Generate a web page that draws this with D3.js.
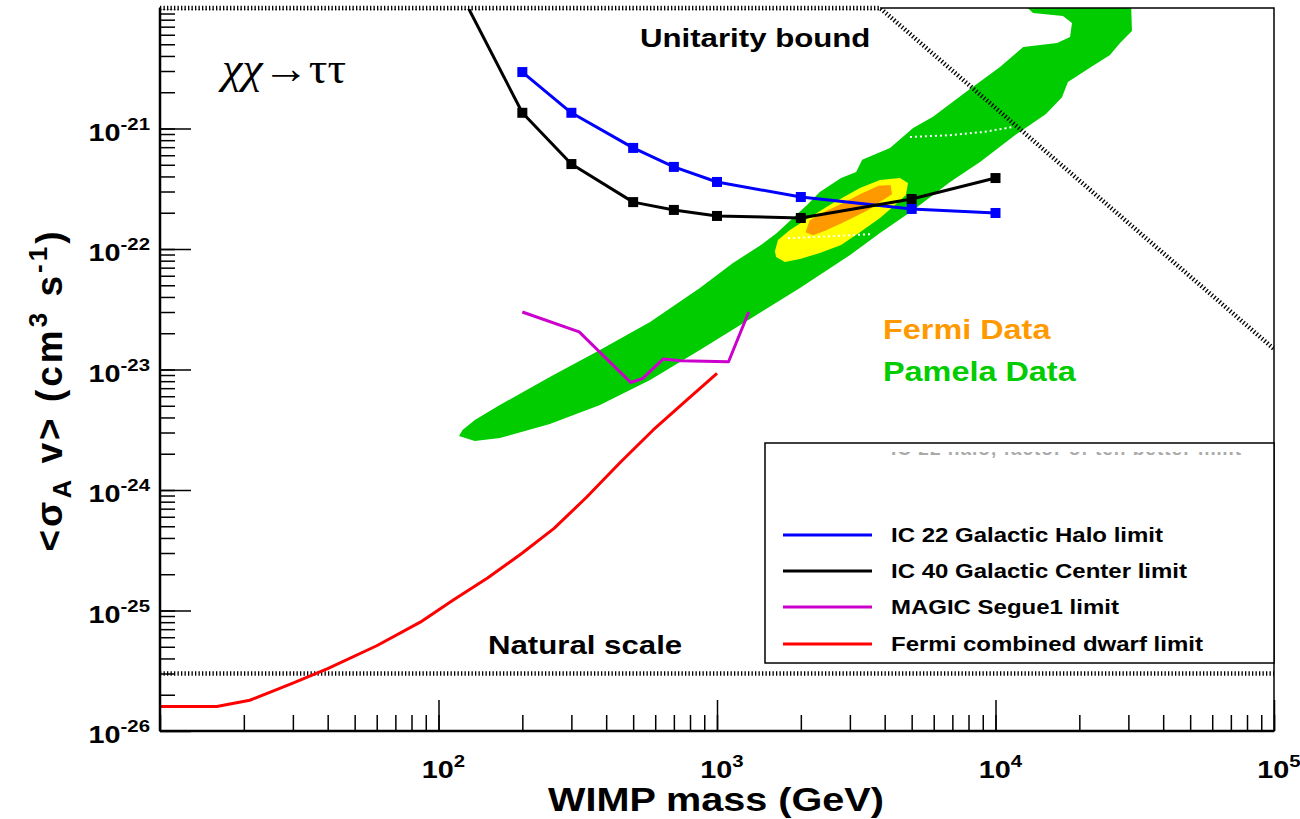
<!DOCTYPE html>
<html>
<head>
<meta charset="utf-8">
<script src="https://d3js.org/d3.v7.min.js"></script>
<style>
  body { margin: 0; background: #fff; }
  svg { display: block; }
</style>
</head>
<body>
<svg id="chart"></svg>
<script>
// values: [WIMP mass (GeV), <sigma v> (cm^3 s^-1)]
var ic22Halo = [[200, 2.94e-21], [300, 1.35e-21], [500, 6.9e-22], [700, 4.8e-22],
  [1000, 3.6e-22], [2000, 2.7e-22], [5000, 2.15e-22], [10000, 1.99e-22]];
var ic40Center = [[200, 1.35e-21], [300, 5.07e-22], [500, 2.45e-22], [700, 2.11e-22],
  [1000, 1.88e-22], [2000, 1.81e-22], [5000, 2.6e-22], [10000, 3.88e-22]];
var ic40Offscale = [[128, 1e-20], [200, 1.35e-21]];   // part of the IC40 line above the frame
var magicSegue = [[200, 3.0e-23], [320, 2.05e-23], [490, 7.8e-24], [540, 8.4e-24],
  [640, 1.22e-23], [740, 1.18e-23], [1100, 1.16e-23], [1300, 3.0e-23]];
var fermiDwarf = [[10, 1.6e-26], [16, 1.6e-26], [21, 1.8e-26], [30, 2.5e-26], [40, 3.3e-26],
  [60, 5.1e-26], [86, 8.0e-26], [113, 1.22e-25], [150, 1.86e-25], [200, 3.0e-25],
  [260, 4.8e-25], [340, 8.7e-25], [450, 1.7e-24], [590, 3.15e-24], [780, 5.6e-24], [1000, 9.3e-24]];

var unitarity = [[10, 1e-20], [3850, 1e-20], [1e5, 1.48e-23]];
var naturalScale = [[10, 3e-26], [1e5, 3e-26]];

// Pamela (green) region outline
var pamelaRegion = [[118.5, 2.8e-24], [135, 2.55e-24], [166, 2.7e-24], [251, 3.53e-24], [380, 5.07e-24],
  [575, 8.2e-24], [868, 1.45e-23], [1313, 2.62e-23], [1985, 4.74e-23], [3005, 8.9e-23],
  [3848, 1.36e-22], [5012, 2.07e-22], [6870, 3.6e-22], [8800, 5.27e-22], [11740, 8.8e-22],
  [15180, 1.32e-21], [17330, 1.82e-21], [18200, 2.43e-21], [22030, 3.24e-21], [25770, 4.07e-21],
  [28000, 5.13e-21], [30900, 6.44e-21], [30680, 1.1e-20], [12500, 1.1e-20], [13640, 9.1e-21],
  [17460, 8.6e-21], [18820, 7.5e-21], [18520, 5.74e-21], [16640, 5.13e-21], [12570, 4.74e-21],
  [10380, 3.24e-21], [7830, 2.01e-21], [5965, 1.25e-21], [5060, 1.01e-21], [4180, 6.9e-22],
  [3320, 5.5e-22], [3160, 4.36e-22], [2790, 3.88e-22], [2340, 2.97e-22], [2105, 2.32e-22],
  [1640, 1.36e-22], [1438, 1.08e-22], [1141, 7.65e-23], [868, 4.74e-23], [575, 2.48e-23],
  [380, 1.45e-23], [251, 8.67e-24], [166, 5.07e-24], [135, 3.81e-24], [122, 3.15e-24]];
// Fermi regions (yellow outer, orange inner)
var fermiOuter = [[1614, 9.6e-23], [1655, 1.19e-22], [1828, 1.44e-22], [2105, 1.77e-22], [2610, 2.41e-22],
  [3260, 3.21e-22], [3848, 3.74e-22], [4540, 3.88e-22], [4850, 3.53e-22], [4770, 2.81e-22],
  [4360, 2.32e-22], [3848, 1.81e-22], [3260, 1.38e-22], [2790, 1.08e-22], [2340, 9.27e-23],
  [1985, 8.26e-23], [1754, 7.8e-23], [1630, 8.6e-23]];
var fermiInner = [[2080, 1.38e-22], [2150, 1.72e-22], [2445, 2.05e-22], [2790, 2.36e-22], [3260, 2.85e-22],
  [3800, 3.35e-22], [4200, 3.4e-22], [4250, 2.85e-22], [3848, 2.45e-22], [3485, 2.1e-22],
  [2790, 1.63e-22], [2445, 1.42e-22], [2213, 1.3e-22]];
var fermiDotted = [[1800, 1.23e-22], [2610, 1.28e-22], [3630, 1.33e-22]];
var pamelaDotted = [[4930, 8.5e-22], [6870, 8.8e-22], [9020, 9.35e-22], [11560, 1.03e-21]];

var xMajor = [1e2, 1e3, 1e4, 1e5];
var xMajorExp = ['2', '3', '4', '5'];
var yMajor = [1e-21, 1e-22, 1e-23, 1e-24, 1e-25, 1e-26];
var yMajorExp = ['-21', '-22', '-23', '-24', '-25', '-26'];

var legendNames = ['IC 22 Galactic Halo limit', 'IC 40 Galactic Center limit',
  'MAGIC Segue1 limit', 'Fermi combined dwarf limit'];
var legendColors = ['#0000ff', '#000000', '#cc00cc', '#ff0000'];

var W = 1300, H = 819;
var frameL = 160, frameR = 1274, frameT = 8, frameB = 731;
var stretch = 1.2;   // the original figure is widened horizontally
var sans = '"Liberation Sans", Arial, Helvetica, sans-serif';

var svg = d3.select('#chart').attr('width', W).attr('height', H);
svg.append('rect').attr('width', W).attr('height', H).attr('fill', '#fff');

var x = d3.scaleLog().domain([10, 1e5]).range([frameL, frameR]);
var y = d3.scaleLog().domain([1e-26, 1e-20]).range([frameB, frameT]);

svg.append('clipPath').attr('id', 'plotClip')
  .append('rect').attr('x', frameL).attr('y', frameT).attr('width', frameR - frameL).attr('height', frameB - frameT);

var plot = svg.append('g').attr('clip-path', 'url(#plotClip)');

var line = d3.line().x(function(d) { return x(d[0]); }).y(function(d) { return y(d[1]); });
var poly = d3.line().x(function(d) { return x(d[0]); }).y(function(d) { return y(d[1]); })
  .curve(d3.curveLinearClosed);

// contour regions
plot.append('path').attr('d', poly(pamelaRegion)).attr('fill', '#00cc00');
plot.append('path').attr('d', poly(fermiOuter)).attr('fill', '#ffff00');
plot.append('path').attr('d', poly(fermiInner)).attr('fill', '#ff9900');
[fermiDotted, pamelaDotted].forEach(function(d) {
  plot.append('path').attr('d', line(d)).attr('fill', 'none')
    .attr('stroke', '#fff').attr('stroke-width', 2).attr('stroke-dasharray', '2,3');
});

// bounds
[naturalScale, unitarity].forEach(function(d) {
  plot.append('path').attr('d', line(d)).attr('fill', 'none')
    .attr('stroke', '#000').attr('stroke-width', 4.5).attr('stroke-dasharray', '1.3,2.2');
});

// limit curves
function drawCurve(data, color, width) {
  plot.append('path').attr('d', line(data)).attr('fill', 'none')
    .attr('stroke', color).attr('stroke-width', width).attr('stroke-linejoin', 'round');
}
drawCurve(fermiDwarf, '#ff0000', 3);
drawCurve(magicSegue, '#cc00cc', 3);
drawCurve(ic22Halo, '#0000ff', 3);
drawCurve(ic40Offscale, '#000', 3);
drawCurve(ic40Center, '#000', 3);

function drawMarkers(data, color) {
  plot.selectAll(null).data(data).enter().append('rect')
    .attr('x', function(d) { return x(d[0]) - 5; })
    .attr('y', function(d) { return y(d[1]) - 5; })
    .attr('width', 10).attr('height', 10)
    .attr('fill', color);
}
drawMarkers(ic22Halo, '#0000ff');
drawMarkers(ic40Center, '#000');

// axes: ticks inside the frame
var tickG = svg.append('g');
function axisStyle(g) {
  g.select('.domain').remove();
  g.selectAll('text').remove();
  g.selectAll('line').attr('stroke', '#000').attr('stroke-width', 1.5);
}
tickG.append('g').attr('transform', 'translate(' + frameL + ',0)')
  .call(d3.axisRight(y).tickValues(y.ticks()).tickSize(15)).call(axisStyle);
tickG.append('g').attr('transform', 'translate(' + frameL + ',0)')
  .call(d3.axisRight(y).tickValues(yMajor).tickSize(31)).call(axisStyle);
tickG.append('g').attr('transform', 'translate(0,' + frameB + ')')
  .call(d3.axisTop(x).tickValues(x.ticks()).tickSize(16)).call(axisStyle);
tickG.append('g').attr('transform', 'translate(0,' + frameB + ')')
  .call(d3.axisTop(x).tickValues(xMajor).tickSize(31)).call(axisStyle);

// frame
svg.append('rect').attr('x', frameL).attr('y', frameT).attr('width', frameR - frameL).attr('height', frameB - frameT)
  .attr('fill', 'none').attr('stroke', '#000').attr('stroke-width', 1.5);
svg.append('line').attr('x1', frameL).attr('x2', frameL).attr('y1', frameT).attr('y2', frameB)
  .attr('stroke', '#000').attr('stroke-width', 2.5);
svg.append('line').attr('x1', frameL).attr('x2', frameR).attr('y1', frameB).attr('y2', frameB)
  .attr('stroke', '#000').attr('stroke-width', 2.5);
// the unitarity line sits on top of the frame edge
svg.append('path').attr('d', line(unitarity.slice(0, 2))).attr('fill', 'none')
  .attr('stroke', '#fff').attr('stroke-width', 2);
svg.append('path').attr('d', line(unitarity.slice(0, 2))).attr('fill', 'none')
  .attr('stroke', '#000').attr('stroke-width', 4.5).attr('stroke-dasharray', '1.3,2.2');

// text helper: widened glyphs like the source figure
function addText(px, py, size, opts) {
  opts = opts || {};
  var sx = opts.sx || stretch;
  var g = svg.append('g').attr('transform', 'translate(' + px + ',' + py + ') scale(' + sx + ',1)' +
    (opts.rotate ? ' rotate(' + opts.rotate + ')' : ''));
  return g.append('text')
    .attr('text-anchor', opts.anchor || 'start')
    .attr('fill', opts.color || '#000')
    .style('font-family', opts.family || sans)
    .style('font-weight', opts.weight || 'bold')
    .style('font-size', size + 'px');
}

// tick labels
yMajor.forEach(function(v, i) {
  var t = addText(150, y(v) + 12, 24, { anchor: 'end' });
  t.append('tspan').text('10');
  t.append('tspan').attr('dy', -11).style('font-size', '17px').text(yMajorExp[i]);
});
xMajor.forEach(function(v, i) {
  var t = addText(x(v) + 5, 778, 24, { anchor: 'middle' });
  t.append('tspan').text('10');
  t.append('tspan').attr('dy', -11).style('font-size', '17px').text(xMajorExp[i]);
});

// axis titles
addText(716, 811, 33, { anchor: 'middle' }).text('WIMP mass (GeV)');
var yt = addText(62, 390, 37, { anchor: 'middle', rotate: -90, sx: 1 })
  .style('letter-spacing', '3px');
yt.append('tspan').text('<\u03c3');
yt.append('tspan').attr('dy', 9).style('font-size', '26px').text('A');
yt.append('tspan').attr('dy', -9).text(' v> (cm');
yt.append('tspan').attr('dy', -15).style('font-size', '26px').text('3');
yt.append('tspan').attr('dy', 15).text(' s');
yt.append('tspan').attr('dy', -15).style('font-size', '26px').text('-1');
yt.append('tspan').attr('dy', 15).text(')');

// annotations
addText(640, 47, 26).text('Unitarity bound');
addText(488, 654, 26).text('Natural scale');
addText(883, 339, 27, { color: '#ff9900' }).text('Fermi Data');
addText(883, 381, 27, { color: '#00cc00' }).text('Pamela Data');
var proc = addText(222, 83, 44, { family: '"Liberation Serif", "DejaVu Serif", serif', weight: 'normal', sx: 1.05 });
proc.append('tspan').style('font-style', 'italic').text('\u03c7\u03c7');
proc.append('tspan').text('\u2192\u03c4\u03c4');

// legend
var lg = { x: 765, y: 443, w: frameR - 765, h: 220 };
svg.append('rect').attr('x', lg.x).attr('y', lg.y).attr('width', lg.w).attr('height', lg.h)
  .attr('fill', '#fff').attr('stroke', '#000').attr('stroke-width', 1.5);
svg.append('clipPath').attr('id', 'legClip')
  .append('rect').attr('x', lg.x).attr('y', lg.y + 9).attr('width', lg.w).attr('height', 20);
svg.append('g').attr('clip-path', 'url(#legClip)')
  .append('text').attr('x', 891).attr('y', 455).attr('fill', '#aaa')
  .style('font-family', sans).style('font-weight', 'bold').style('font-size', '19px')
  .attr('textLength', 350).text('IC 22 halo, factor of ten better limit');
var rowY = [535, 571, 607, 644];
legendNames.forEach(function(name, i) {
  svg.append('line').attr('x1', 783).attr('x2', 872).attr('y1', rowY[i]).attr('y2', rowY[i])
    .attr('stroke', legendColors[i]).attr('stroke-width', 3);
  addText(891, rowY[i] + 7, 20).text(name);
});
</script>
</body>
</html>
